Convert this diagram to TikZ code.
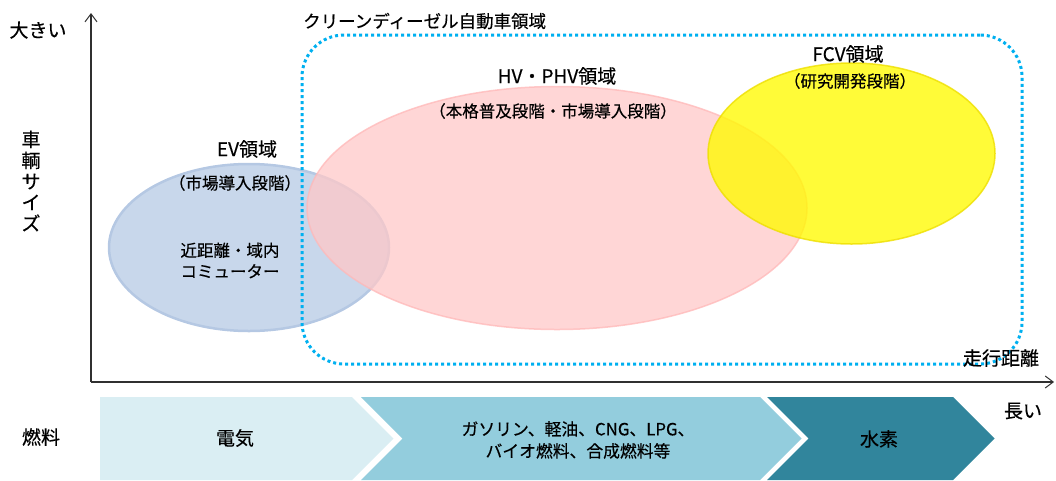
\documentclass[tikz,border=0pt]{standalone}
\usepackage{fontspec}
\setmainfont{Noto Sans CJK JP}[FakeBold=0.35]
\usetikzlibrary{shapes.geometric,arrows.meta}
\definecolor{evfill}{HTML}{C8D7EB}
\definecolor{evline}{HTML}{B5C8E3}
\definecolor{hvfill}{HTML}{FFC8C8}
\definecolor{hvline}{HTML}{FFB8B8}
\definecolor{fcvfill}{HTML}{FFFA00}
\definecolor{fcvline}{HTML}{EEDF00}
\definecolor{dotblue}{HTML}{00B0F0}
\definecolor{chevA}{HTML}{DAEEF3}
\definecolor{chevB}{HTML}{93CDDD}
\definecolor{chevC}{HTML}{31859C}
\definecolor{axisgray}{HTML}{303030}
\begin{document}
\begin{tikzpicture}[x=1pt,y=-1pt,
  lbl/.style={inner sep=0pt, font=\fontsize{19}{21}\selectfont},
  sublbl/.style={inner sep=0pt, font=\fontsize{16.5}{18}\selectfont},
  inlbl/.style={inner sep=0pt, align=center, font=\fontsize{16.5}{21}\selectfont},
  region/.style={ellipse, inner sep=0pt},
  axisline/.style={draw=axisgray, line width=1.2pt, -{Straight Barb[length=8pt,width=12pt,line width=1pt]}},
  zone/.style={draw=dotblue, line width=3pt, dash pattern=on 3pt off 3pt, rounded corners=42pt, inner sep=0pt},
  chevtext/.style={inner sep=0pt, align=center}
]
\useasboundingbox (0,0) rectangle (1056,480);

% regions
\node[region, fill=evfill, draw=evline, line width=2.5pt,
      minimum width=280pt, minimum height=167pt] (ev) at (249,247.5) {};
\node[region, fill=hvfill, draw=hvline, line width=1.5pt, fill opacity=0.75, draw opacity=0.75,
      minimum width=500pt, minimum height=243pt] (hv) at (557,208) {};
\node[region, fill=fcvfill, draw=fcvline, line width=1.5pt, fill opacity=0.78, draw opacity=0.8,
      minimum width=287pt, minimum height=181pt] (fcv) at (851.5,153.5) {};

% clean diesel zone
\node[zone, minimum width=720pt, minimum height=329pt] (zone) at (662,199.5) {};
\node[lbl, anchor=west, font=\fontsize{17.5}{20}\selectfont] (zonelbl) at (303,21) {クリーンディーゼル自動車領域};

% axes
\coordinate (O) at (91,382);
\coordinate (ytip) at (91,13);
\coordinate (xtip) at (1054,382);
\draw[axisline] (O) -- (ytip);
\draw[axisline] (O) -- (xtip);

% axis labels
\node[lbl] (big) at (38,30) {大きい};
\node[lbl, align=center, font=\fontsize{19}{21}\selectfont] (size) at (31,181) {車\\輌\\サ\\イ\\ズ};
\node[lbl] (dist) at (1001,358) {走行距離};
\node[lbl] (long) at (1023,411) {長い};
\node[lbl] (fuel) at (41,437) {燃料};

% region labels
\node[lbl] (evt) at (247,149) {EV領域};
\node[sublbl] (evs) at (235,183) {（市場導入段階）};
\node[inlbl] (evin) at (230,260.5) {近距離・域内\\コミューター};
\node[lbl] (hvt) at (557,76) {HV・PHV領域};
\node[sublbl] (hvs) at (553,111) {（本格普及段階・市場導入段階）};
\node[lbl] (fcvt) at (848,54) {FCV領域};
\node[sublbl] (fcvs) at (850,81) {（研究開発段階）};

% fuel chevrons
\fill[chevA] (100,397) -- (352,397) -- (393.5,438.5) -- (352,480) -- (100,480) -- cycle;
\fill[chevB] (361,397) -- (760,397) -- (801.5,438.5) -- (760,480) -- (361,480) -- (402.5,438.5) -- cycle;
\fill[chevC] (767,397) -- (953,397) -- (994.5,438.5) -- (953,480) -- (767,480) -- (808.5,438.5) -- cycle;
\node[chevtext, font=\fontsize{19}{21}\selectfont] (elec) at (235,438) {電気};
\node[chevtext, font=\fontsize{16.8}{22}\selectfont] (liq) at (578,440) {ガソリン、軽油、CNG、LPG、\\バイオ燃料、合成燃料等};
\node[chevtext, font=\fontsize{19}{21}\selectfont] (h2) at (879,439) {水素};
\end{tikzpicture}
\end{document}
